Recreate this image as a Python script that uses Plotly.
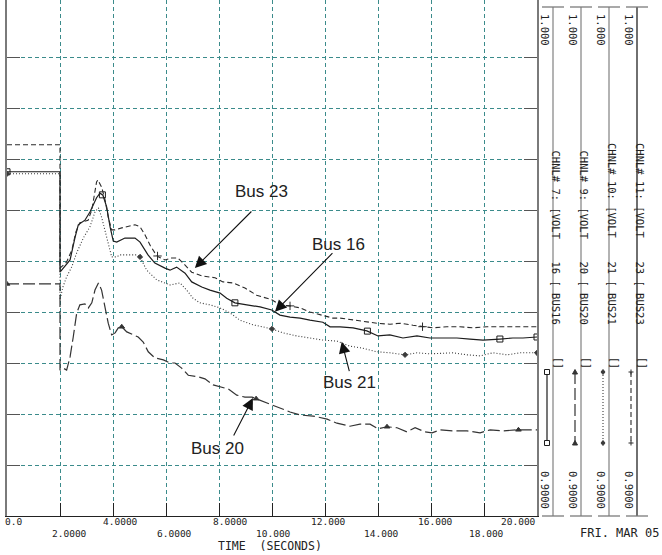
import numpy as np
import plotly.graph_objects as go

# ------------------------------------------------------------------ data
t_bus16 = [0.0, 2.0, 2.0, 2.25, 2.38, 2.57, 2.69, 2.94, 3.13, 3.38, 3.51, 3.62, 3.76, 3.89, 4.01, 4.14,
           4.45, 4.83, 5.02, 5.32, 5.58, 5.96, 6.15, 6.40, 6.72, 6.97, 7.35, 7.66, 8.04, 8.29, 8.60, 9.05,
           9.55, 9.99, 10.30, 10.68, 11.06, 11.43, 11.92, 12.19, 12.57, 13.06, 13.58, 14.00, 14.45, 14.94,
           15.47, 15.96, 16.45, 16.98, 17.47, 17.96, 18.60, 19.09, 19.47, 20.0]
v_bus16 = [0.9675, 0.9675, 0.9478, 0.9494, 0.9502, 0.9547, 0.9571, 0.9580, 0.9596, 0.9624, 0.9633, 0.9629,
           0.9606, 0.9567, 0.9539, 0.9537, 0.9545, 0.9545, 0.9537, 0.9512, 0.9496, 0.9486, 0.9482, 0.9488,
           0.9476, 0.9459, 0.9449, 0.9443, 0.9437, 0.9427, 0.9418, 0.9414, 0.9410, 0.9404, 0.9394, 0.9390,
           0.9388, 0.9384, 0.9380, 0.9371, 0.9371, 0.9369, 0.9363, 0.9353, 0.9355, 0.9349, 0.9353, 0.9349,
           0.9349, 0.9349, 0.9347, 0.9345, 0.9347, 0.9349, 0.9349, 0.9351]

t_bus20 = [0.0, 2.0, 2.0, 2.12, 2.25, 2.38, 2.5, 2.63, 2.75, 2.94, 3.07, 3.2, 3.32, 3.45, 3.57, 3.70, 3.82,
           3.95, 4.08, 4.2, 4.33, 4.52, 4.77, 4.95, 5.14, 5.33, 5.58, 5.9, 6.15, 6.34, 6.59, 6.84, 7.22,
           7.47, 7.78, 8.10, 8.35, 8.67, 8.98, 9.25, 9.55, 9.92, 10.3, 10.68, 11.06, 11.55, 12.08, 12.45,
           12.94, 13.32, 13.7, 14.0, 14.34, 14.72, 15.09, 15.4, 15.77, 16.04, 16.34, 16.83, 17.36, 17.85,
           18.23, 18.72, 19.28, 20.0]
v_bus20 = [0.9455, 0.9455, 0.9286, 0.9290, 0.9286, 0.9312, 0.9351, 0.9398, 0.9414, 0.9416, 0.9408, 0.9418,
           0.9443, 0.9457, 0.9443, 0.9410, 0.9378, 0.9355, 0.9359, 0.9369, 0.9371, 0.9361, 0.9355, 0.9351,
           0.9341, 0.9322, 0.9310, 0.9306, 0.9300, 0.9300, 0.9290, 0.9276, 0.9273, 0.9269, 0.9257, 0.9253,
           0.9249, 0.9237, 0.9233, 0.9233, 0.9227, 0.9220, 0.9212, 0.9204, 0.9198, 0.9196, 0.9190, 0.9182,
           0.9176, 0.9180, 0.9180, 0.9171, 0.9175, 0.9173, 0.9165, 0.9173, 0.9165, 0.9163, 0.9169, 0.9167,
           0.9167, 0.9163, 0.9169, 0.9167, 0.9169, 0.9169]

t_bus21 = [0.0, 2.0, 2.0, 2.11, 2.25, 2.44, 2.63, 2.88, 3.13, 3.32, 3.45, 3.57, 3.76, 3.95, 4.14, 4.26, 4.89,
           5.02, 5.27, 5.65, 6.15, 6.53, 6.78, 7.02, 7.28, 7.66, 8.04, 8.42, 8.79, 9.28, 9.99, 10.42, 10.94,
           11.43, 11.92, 12.45, 12.94, 13.43, 13.96, 14.45, 15.02, 15.47, 15.96, 16.83, 17.36, 17.85, 18.34,
           18.87, 19.36, 20.0]
v_bus21 = [0.9671, 0.9671, 0.9424, 0.9449, 0.9469, 0.9488, 0.9516, 0.9545, 0.9567, 0.9596, 0.9604, 0.9586,
           0.9547, 0.9508, 0.9508, 0.9512, 0.9512, 0.9508, 0.9482, 0.9463, 0.9453, 0.9457, 0.9443, 0.9427,
           0.9418, 0.9414, 0.9408, 0.9398, 0.9384, 0.9375, 0.9367, 0.9359, 0.9353, 0.9349, 0.9345, 0.9343,
           0.9333, 0.9329, 0.9322, 0.9320, 0.9316, 0.9320, 0.9318, 0.9320, 0.9316, 0.9314, 0.9320, 0.9316,
           0.9320, 0.9320]

t_bus23 = [0.0, 2.0, 2.0, 2.25, 2.45, 2.6, 2.75, 3.06, 3.2, 3.38, 3.43, 3.57, 3.70, 3.82, 3.95, 4.08, 4.33,
           4.64, 4.83, 5.02, 5.21, 5.40, 5.58, 5.71, 5.96, 6.22, 6.45, 6.72, 6.97, 7.35, 7.85, 8.15, 8.53,
           8.98, 9.42, 9.99, 10.3, 10.68, 11.06, 11.43, 11.92, 12.3, 12.57, 13.06, 13.58, 13.96, 14.45, 14.83,
           15.32, 15.70, 16.08, 16.6, 17.09, 17.58, 18.11, 18.6, 19.25, 20.0]
v_bus23 = [0.9728, 0.9728, 0.9486, 0.9498, 0.9522, 0.9557, 0.9575, 0.9580, 0.9600, 0.9655, 0.9659, 0.9645,
           0.9620, 0.9586, 0.9561, 0.9561, 0.9565, 0.9569, 0.9571, 0.9567, 0.9551, 0.9531, 0.9516, 0.9508,
           0.9502, 0.9506, 0.9506, 0.9492, 0.9478, 0.9471, 0.9467, 0.9459, 0.9457, 0.9447, 0.9433, 0.9424,
           0.9414, 0.9412, 0.9408, 0.9400, 0.9394, 0.9388, 0.9388, 0.9384, 0.9380, 0.9378, 0.9376, 0.9378,
           0.9374, 0.9371, 0.9369, 0.9371, 0.9371, 0.9369, 0.9371, 0.9371, 0.9371, 0.9371]

# times at which the plot symbols are drawn on each curve
mk_bus16 = [0.0, 3.6, 8.6, 13.6, 18.6, 20.0]
mk_bus20 = [0.0, 4.33, 9.4, 14.34, 19.3]
mk_bus21 = [0.0, 5.02, 10.0, 15.02, 20.0]
mk_bus23 = [5.68, 10.68, 15.68]

tick_vals = [0, 2, 4, 6, 8, 10, 12, 14, 16, 18, 20]
tick_text = ["0.0", "2.0000", "4.0000", "6.0000", "8.0000", "10.000",
             "12.000", "14.000", "16.000", "18.000", "20.000"]
y_grid = [0.91, 0.92, 0.93, 0.94, 0.95, 0.96, 0.97, 0.98, 0.99]

channel_ids = [7, 9, 10, 11]
bus_numbers = [16, 20, 21, 23]
bus_names = ["BUS16", "BUS20", "BUS21", "BUS23"]
scale_max = "1.000"
scale_min = "0.9000"
x_title = "TIME  (SECONDS)"
date_text = "FRI. MAR 05"

# ------------------------------------------------------------------ geometry helpers
W, H = 662, 555
PB = 516  # bottom of plotting area in pixels


def px(x):
    return x / W


def py(y):
    return (PB - y) / PB


MONO = "DejaVu Sans Mono"
INK = "#222222"

fig = go.Figure()

series = [
    dict(t=t_bus16, v=v_bus16, mk=mk_bus16, color="#1c1c1c", width=1.2, dash="solid",
         symbol="square-open", msize=6),
    dict(t=t_bus20, v=v_bus20, mk=mk_bus20, color="#333333", width=1.2, dash="12px,4px",
         symbol="triangle-up", msize=5),
    dict(t=t_bus21, v=v_bus21, mk=mk_bus21, color="#3a3a3a", width=1.1, dash="1px,2px",
         symbol="diamond", msize=4),
    dict(t=t_bus23, v=v_bus23, mk=mk_bus23, color="#2a2a2a", width=1.1, dash="5px,3px",
         symbol="cross-thin", msize=6),
]

for s in series:
    assert len(s["t"]) == len(s["v"])
    fig.add_trace(go.Scatter(x=s["t"], y=s["v"], mode="lines",
                             line=dict(color=s["color"], width=s["width"], dash=s["dash"]),
                             hoverinfo="skip", showlegend=False))
    my = np.interp(s["mk"], s["t"], s["v"])
    fig.add_trace(go.Scatter(x=s["mk"], y=my, mode="markers",
                             marker=dict(symbol=s["symbol"], size=s["msize"], color=s["color"],
                                         line=dict(width=1, color=s["color"])),
                             hoverinfo="skip", showlegend=False))

GRID = "#3b8b8b"
fig.update_layout(
    width=W, height=H,
    margin=dict(l=0, r=0, t=0, b=H - PB),
    paper_bgcolor="white", plot_bgcolor="white",
    showlegend=False, hovermode=False,
    xaxis=dict(domain=[7 / W, 537 / W], range=[0, 20], tickvals=tick_vals, showticklabels=False,
               ticks="inside", ticklen=13, tickcolor=INK, tickwidth=1,
               showline=True, linecolor=INK, linewidth=1, mirror=False,
               showgrid=True, gridcolor=GRID, gridwidth=1, griddash="4px,3px", zeroline=False),
    yaxis=dict(domain=[0, 1], range=[0.9, 1.0 + 6 / 5100], tickvals=y_grid, showticklabels=False,
               ticks="inside", ticklen=13, tickcolor="#555555", tickwidth=1.2,
               showline=True, linecolor="#7a7a7a", linewidth=1.5, mirror="ticks",
               showgrid=True, gridcolor=GRID, gridwidth=1, griddash="4px,3px", zeroline=False),
)

annotations = []
shapes = []

# x tick labels in two staggered rows
label_shift = [6.5, 9, 7.5, 8.5, 11, 1.5, 3, 3, 4, 2, -19]
for i, (tv, tt) in enumerate(zip(tick_vals, tick_text)):
    row = i % 2
    annotations.append(dict(x=tv, xref="x", y=0, yref="paper", text=tt, showarrow=False,
                            xanchor="center", yanchor="middle", xshift=label_shift[i],
                            yshift=-(5.5 if row == 0 else 17),
                            font=dict(family=MONO, size=9.5, color=INK)))

annotations.append(dict(x=px(270), y=py(546), xref="paper", yref="paper", text=x_title,
                        showarrow=False, xanchor="center", yanchor="middle",
                        font=dict(family=MONO, size=11.5, color=INK)))
annotations.append(dict(x=px(578), y=py(533), xref="paper", yref="paper", text=date_text,
                        showarrow=False, xanchor="left", yanchor="middle",
                        font=dict(family=MONO, size=12, color=INK)))

# bus callouts: (label, text centre px, arrow head in data, tail offset px)
callouts = [
    ("Bus 23", (261, 191), (7.09, 0.94863), (58, -58)),
    ("Bus 16", (338, 245), (10.11, 0.94006), (59, -60)),
    ("Bus 21", (349, 382), (12.63, 0.93418), (8, 31)),
    ("Bus 20", (218, 448), (9.28, 0.92314), (-20, 39)),
]
for label, (cx, cy), (hx, hy), (ax, ay) in callouts:
    annotations.append(dict(x=px(cx), y=py(cy), xref="paper", yref="paper", text=label,
                            showarrow=False, xanchor="center", yanchor="middle",
                            font=dict(family="Liberation Sans, Arial", size=17, color=INK)))
    annotations.append(dict(x=hx, y=hy, xref="x", yref="y", text="", showarrow=True,
                            ax=ax, ay=ay, arrowhead=2, arrowsize=2.1, arrowwidth=1.1,
                            arrowcolor="#111111", standoff=0))

# right-hand channel strips
strip_x = [553, 581, 609, 637]
strip_col = ["#8a8a8a", "#8a8a8a", "#8a8a8a", "#222222"]
for k, lx in enumerate(strip_x):
    s = series[k]
    shapes.append(dict(type="line", xref="paper", yref="paper", x0=px(lx), x1=px(lx),
                       y0=py(7), y1=py(PB), line=dict(color=strip_col[k], width=1.3)))
    for yy in (7, PB):
        shapes.append(dict(type="line", xref="paper", yref="paper", x0=px(lx - 11), x1=px(lx + 11),
                           y0=py(yy), y1=py(yy), line=dict(color="#7a7a7a", width=1.3)))
    tfont = dict(family=MONO, size=10.5, color=INK)
    annotations.append(dict(x=px(lx - 8), y=py(30), xref="paper", yref="paper", text=scale_max,
                            showarrow=False, textangle=90, xanchor="center", yanchor="middle",
                            font=tfont))
    annotations.append(dict(x=px(lx - 8), y=py(490), xref="paper", yref="paper", text=scale_min,
                            showarrow=False, textangle=90, xanchor="center", yanchor="middle",
                            font=tfont))
    annotations.append(dict(x=px(lx + 3), y=py(241), xref="paper", yref="paper",
                            text="CHNL# %d: [VOLT" % channel_ids[k],
                            showarrow=False, textangle=90, xanchor="center", yanchor="bottom",
                            font=tfont))
    annotations.append(dict(x=px(lx + 3), y=py(259), xref="paper", yref="paper",
                            text="%d [ %s" % (bus_numbers[k], bus_names[k]),
                            showarrow=False, textangle=90, xanchor="center", yanchor="top",
                            font=tfont))
    annotations.append(dict(x=px(lx + 5), y=py(363), xref="paper", yref="paper", text="[]",
                            showarrow=False, textangle=90, xanchor="center", yanchor="middle",
                            font=dict(family=MONO, size=10, color=INK)))
    # legend key: line sample with symbols at both ends
    kx = lx - 6
    shapes.append(dict(type="line", xref="paper", yref="paper", x0=px(kx), x1=px(kx),
                       y0=py(372), y1=py(443), line=dict(color=s["color"], width=s["width"],
                                                         dash=s["dash"])))
    for ky in (372, 443):
        base = dict(xref="paper", yref="paper", xsizemode="pixel", ysizemode="pixel",
                    xanchor=px(kx), yanchor=py(ky))
        if k == 0:
            shapes.append(dict(type="rect", x0=-2.5, x1=2.5, y0=-2.5, y1=2.5,
                               line=dict(color=s["color"], width=1), fillcolor="white", **base))
        elif k == 1:
            shapes.append(dict(type="path", path="M-2.5,-2 L2.5,-2 L0,2.5 Z",
                               line=dict(color=s["color"], width=1), fillcolor=s["color"], **base))
        elif k == 2:
            shapes.append(dict(type="path", path="M0,-2.5 L2,0 L0,2.5 L-2,0 Z",
                               line=dict(color=s["color"], width=1), fillcolor=s["color"], **base))
        else:
            shapes.append(dict(type="path", path="M-2.5,0 L2.5,0 M0,-2.5 L0,2.5",
                               line=dict(color=s["color"], width=1), **base))

fig.update_layout(annotations=annotations, shapes=shapes)

fig.write_html("out.html", config={"displayModeBar": False},
               post_script="document.body.style.margin='0px';document.body.style.padding='0px';")
